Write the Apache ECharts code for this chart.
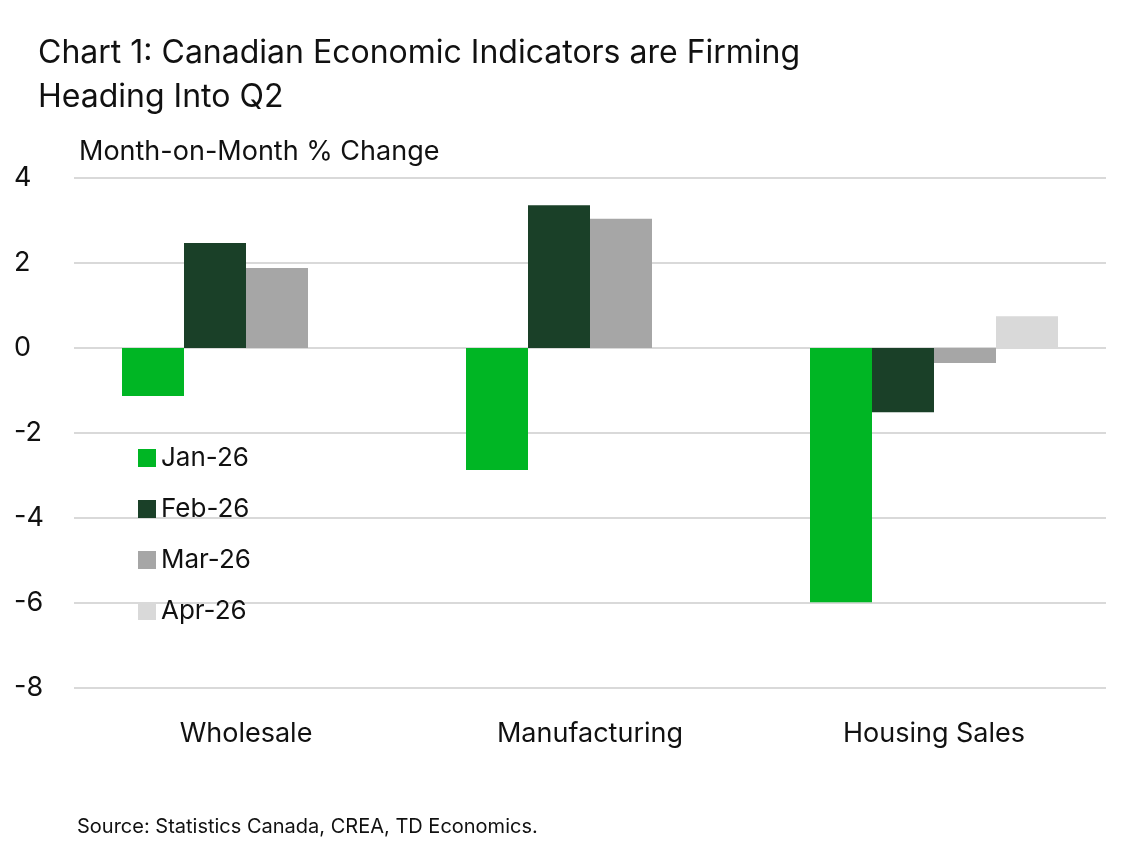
<!DOCTYPE html>
<html><head><meta charset="utf-8">
<script src="https://cdn.jsdelivr.net/npm/echarts@6/dist/echarts.min.js"></script>
<style>html,body{margin:0;background:#fff}#c{width:1135px;height:848px}</style>
</head><body><div id="c"></div>
<script>
const categories = ['Wholesale', 'Manufacturing', 'Housing Sales'];
const seriesNames = ['Jan-26', 'Feb-26', 'Mar-26', 'Apr-26'];
const jan = [-1.13, -2.87, -5.98];
const feb = [2.47, 3.36, -1.51];
const mar = [1.88, 3.04, -0.35];
const apr = [null, null, 0.75];
const colors = ['#00b624', '#1a4028', '#a6a6a6', '#d9d9d9'];

const chart = echarts.init(document.getElementById('c'));
const font = 'Inter, "Noto Sans", sans-serif';
chart.setOption({
    animation: false,
    textStyle: { fontFamily: font },
    title: [
        { text: 'Chart 1: Canadian Economic Indicators are Firming\nHeading Into Q2', left: 33, top: 26,
          textStyle: { fontSize: 32, fontWeight: 'normal', color: '#111', lineHeight: 44, fontFamily: font } },
        { text: 'Month-on-Month % Change', left: 74, top: 133,
          textStyle: { fontSize: 27, fontWeight: 'normal', color: '#111', fontFamily: font } },
        { text: 'Source: Statistics Canada, CREA, TD Economics.', left: 72, top: 812,
          textStyle: { fontSize: 20, fontWeight: 'normal', color: '#111', fontFamily: font } }
    ],
    legend: {
        orient: 'vertical', left: 133, top: 440, itemWidth: 18, itemHeight: 18, itemGap: 25,
        icon: 'rect', textStyle: { fontSize: 26, color: '#111', fontFamily: font },
        data: seriesNames
    },
    grid: { left: 74, right: 29, top: 178, bottom: 160 },
    xAxis: {
        type: 'category', data: categories,
        axisLine: { show: false }, axisTick: { show: false },
        axisLabel: { fontSize: 27, color: '#111', margin: 32 }
    },
    yAxis: {
        type: 'value', min: -8, max: 4, interval: 2,
        axisLabel: { fontSize: 27, color: '#111', margin: 30, align: 'left', padding: [0, 0, 0, -30] },
        splitLine: { lineStyle: { color: '#d9d9d9', width: 2 } }
    },
    series: [jan, feb, mar, apr].map((d, i) => ({
        name: seriesNames[i], type: 'bar', data: d, barWidth: 62, barGap: '0%',
        itemStyle: { color: colors[i] }
    }))
});
</script></body></html>
